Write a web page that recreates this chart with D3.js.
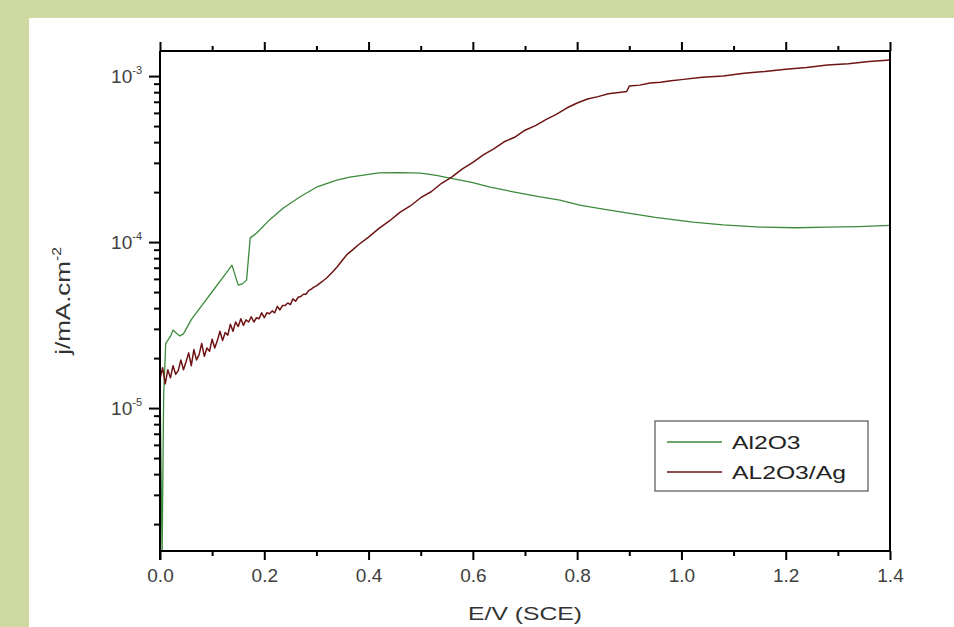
<!DOCTYPE html>
<html>
<head>
<meta charset="utf-8">
<script src="https://cdn.jsdelivr.net/npm/d3@7"></script>
<style>
  html, body { margin: 0; padding: 0; background: #cdd9a1; }
  #chart { width: 954px; height: 627px; }
  text { font-family: "Liberation Sans", Arial, sans-serif; }
</style>
</head>
<body>
<div id="chart"></div>
<script>
// potential E/V (SCE) and current density j
const al2o3E = [0.000, 0.004, 0.007, 0.011, 0.020, 0.025, 0.030, 0.038, 0.045, 0.060, 0.080, 0.100,
  0.120, 0.138, 0.150, 0.158, 0.166, 0.173, 0.185, 0.210, 0.236, 0.268, 0.300, 0.339, 0.364,
  0.400, 0.420, 0.460, 0.500, 0.530, 0.556, 0.600, 0.633, 0.680, 0.729, 0.767, 0.805, 0.850,
  0.895, 0.950, 1.022, 1.080, 1.151, 1.220, 1.279, 1.340, 1.400];
const al2o3J = [1.5e-5, 1.3e-6, 1.2e-5, 2.45e-5, 2.7e-5, 2.95e-5, 2.85e-5, 2.72e-5, 2.8e-5, 3.41e-5,
  4.14e-5, 5.02e-5, 6.09e-5, 7.26e-5, 5.5e-5, 5.6e-5, 5.9e-5, 1.06e-4, 1.13e-4, 1.36e-4, 1.6e-4,
  1.87e-4, 2.14e-4, 2.36e-4, 2.46e-4, 2.56e-4, 2.61e-4, 2.62e-4, 2.6e-4, 2.52e-4, 2.43e-4,
  2.28e-4, 2.14e-4, 2.0e-4, 1.87e-4, 1.79e-4, 1.67e-4, 1.58e-4, 1.5e-4, 1.41e-4, 1.32e-4,
  1.27e-4, 1.23e-4, 1.22e-4, 1.23e-4, 1.24e-4, 1.26e-4];

const agE = [0.000, 0.005, 0.010, 0.015, 0.020, 0.025, 0.030, 0.035, 0.040, 0.045, 0.050, 0.055,
  0.060, 0.065, 0.070, 0.075, 0.080, 0.085, 0.090, 0.095, 0.100, 0.105, 0.110, 0.115, 0.120,
  0.125, 0.130, 0.135, 0.140, 0.145, 0.150, 0.155, 0.160, 0.165, 0.170, 0.175, 0.180, 0.185,
  0.190, 0.195, 0.200, 0.205, 0.210, 0.215, 0.220, 0.225, 0.230, 0.235, 0.240, 0.245, 0.250,
  0.255, 0.260, 0.265, 0.270, 0.275, 0.280, 0.285, 0.290, 0.295, 0.300,
  0.31, 0.32, 0.33, 0.34, 0.35, 0.36, 0.37, 0.38, 0.40, 0.42, 0.44, 0.46, 0.48, 0.50, 0.52,
  0.54, 0.56, 0.58, 0.60, 0.62, 0.64, 0.66, 0.68, 0.70, 0.72, 0.74, 0.76, 0.78, 0.80, 0.82,
  0.84, 0.86, 0.88, 0.895, 0.90, 0.92, 0.94, 0.96, 0.98, 1.00, 1.04, 1.08, 1.12, 1.16, 1.20,
  1.24, 1.28, 1.32, 1.36, 1.40];
const agJ = [1.5e-5, 1.75e-5, 1.4e-5, 1.7e-5, 1.52e-5, 1.8e-5, 1.6e-5, 1.68e-5, 1.95e-5, 1.7e-5,
  1.9e-5, 2.15e-5, 1.8e-5, 2.25e-5, 1.95e-5, 2.1e-5, 2.45e-5, 2.05e-5, 2.3e-5, 2.2e-5, 2.6e-5,
  2.3e-5, 2.55e-5, 2.9e-5, 2.55e-5, 2.85e-5, 2.75e-5, 3.2e-5, 2.9e-5, 3.3e-5, 3.1e-5, 3.45e-5,
  3.15e-5, 3.4e-5, 3.3e-5, 3.55e-5, 3.3e-5, 3.5e-5, 3.45e-5, 3.75e-5, 3.5e-5, 3.75e-5, 3.7e-5,
  3.85e-5, 3.75e-5, 4.1e-5, 3.9e-5, 4.15e-5, 4.15e-5, 4.3e-5, 4.2e-5, 4.55e-5, 4.4e-5, 4.65e-5,
  4.7e-5, 4.85e-5, 4.85e-5, 5.1e-5, 5.2e-5, 5.35e-5, 5.45e-5,
  5.75e-5, 6.1e-5, 6.55e-5, 7.1e-5, 7.8e-5, 8.5e-5, 9.0e-5, 9.6e-5, 1.07e-4, 1.21e-4, 1.34e-4,
  1.51e-4, 1.65e-4, 1.85e-4, 2.01e-4, 2.26e-4, 2.47e-4, 2.76e-4, 3.02e-4, 3.35e-4, 3.64e-4,
  4.02e-4, 4.28e-4, 4.72e-4, 5.03e-4, 5.47e-4, 5.88e-4, 6.42e-4, 6.88e-4, 7.27e-4, 7.52e-4,
  7.82e-4, 7.97e-4, 8.07e-4, 8.7e-4, 8.82e-4, 9.08e-4, 9.18e-4, 9.38e-4, 9.52e-4, 9.84e-4,
  1.0e-3, 1.04e-3, 1.065e-3, 1.1e-3, 1.125e-3, 1.165e-3, 1.185e-3, 1.225e-3, 1.25e-3];

const seriesNames = ["Al2O3", "AL2O3/Ag"];
const xTicks = [0.0, 0.2, 0.4, 0.6, 0.8, 1.0, 1.2, 1.4];
const xMinor = [0.1, 0.3, 0.5, 0.7, 0.9, 1.1, 1.3];
const yDecades = [1e-5, 1e-4, 1e-3];

const width = 954, height = 627;
const mLeft = 160, mRight = 890, mTop = 51, mBottom = 551;
const stretch = 1.3; // the titles and legend text are drawn wide in the original

const svg = d3.select("#chart").append("svg")
  .attr("width", width)
  .attr("height", height);

// white panel over green page
svg.append("rect")
  .attr("x", 29).attr("y", 18)
  .attr("width", width - 29).attr("height", height - 18)
  .attr("fill", "#fff");

const x = d3.scaleLinear().domain([0, 1.4]).range([mLeft, mRight]);
const y = d3.scaleLog().domain([1.377e-6, 1.416e-3]).range([mBottom, mTop]);

svg.append("defs").append("clipPath").attr("id", "plot")
  .append("rect")
  .attr("x", mLeft).attr("y", mTop)
  .attr("width", mRight - mLeft).attr("height", mBottom - mTop);

const series = [
  { name: seriesNames[0], color: "#3c8a3c", width: 1.3, values: al2o3E.map((e, i) => ({ e, j: al2o3J[i] })) },
  { name: seriesNames[1], color: "#6e1414", width: 1.5, values: agE.map((e, i) => ({ e, j: agJ[i] })) }
];

const line = d3.line()
  .x(d => x(d.e))
  .y(d => y(d.j));

series.forEach(s => {
  svg.append("path")
    .datum(s.values)
    .attr("clip-path", "url(#plot)")
    .attr("fill", "none")
    .attr("stroke", s.color)
    .attr("stroke-width", s.width)
    .attr("stroke-linejoin", "round")
    .attr("d", line);
});

// bottom axis
const bottomAxis = svg.append("g")
  .attr("transform", "translate(0," + mBottom + ")")
  .call(d3.axisBottom(x).tickValues(xTicks).tickSize(9).tickPadding(9)
    .tickFormat(d3.format(".1f")));
bottomAxis.append("g").call(d3.axisBottom(x).tickValues(xMinor).tickSize(5).tickFormat(""));

// top axis, no labels
const topAxis = svg.append("g")
  .attr("transform", "translate(0," + mTop + ")")
  .call(d3.axisTop(x).tickValues(xTicks).tickSize(9).tickFormat(""));
topAxis.append("g").call(d3.axisTop(x).tickValues(xMinor).tickSize(5).tickFormat(""));

// left log axis
const yMinor = [];
[1e-6, 1e-5, 1e-4].forEach(dec => {
  for (let k = 2; k <= 9; k++) {
    const v = dec * k;
    if (v >= y.domain()[0] && v <= y.domain()[1]) yMinor.push(v);
  }
});
const leftAxis = svg.append("g")
  .attr("transform", "translate(" + mLeft + ",0)")
  .call(d3.axisLeft(y).tickValues(yDecades).tickSize(11).tickFormat(""));
leftAxis.append("g").call(d3.axisLeft(y).tickValues(yMinor).tickSize(6).tickFormat(""));

// right axis, plain line
svg.append("line")
  .attr("x1", mRight).attr("x2", mRight)
  .attr("y1", mTop).attr("y2", mBottom)
  .attr("stroke", "#000").attr("stroke-width", 2);

svg.selectAll("g g .domain").remove();
svg.selectAll(".domain").attr("stroke", "#000").attr("stroke-width", 2);
svg.selectAll(".tick line").attr("stroke", "#000").attr("stroke-width", 2);
bottomAxis.select(".domain").attr("d", "M" + mLeft + ",0H" + mRight);
topAxis.select(".domain").attr("d", "M" + mLeft + ",0H" + mRight);
leftAxis.select(".domain").attr("d", "M0," + mTop + "V" + (mBottom + 9));

bottomAxis.selectAll(".tick text")
  .attr("font-size", "19px")
  .attr("fill", "#404040")
  .style("font-family", "'Liberation Sans', Arial, sans-serif");

// decade labels 10^n
yDecades.forEach(v => {
  const t = svg.append("text")
    .attr("x", mLeft - 18)
    .attr("y", y(v) + 7)
    .attr("text-anchor", "end")
    .attr("font-size", "19px")
    .attr("fill", "#404040");
  t.append("tspan").text("10");
  t.append("tspan").attr("dy", -9).attr("font-size", "11px").text(String(Math.round(Math.log10(v))));
});

// axis titles
svg.append("text")
  .attr("transform", "translate(" + ((mLeft + mRight) / 2) + ",620) scale(" + stretch + ",1)")
  .attr("text-anchor", "middle")
  .attr("font-size", "19px")
  .attr("fill", "#333")
  .text("E/V (SCE)");

const yl = svg.append("text")
  .attr("transform", "translate(70," + ((mTop + mBottom) / 2) + ") rotate(-90) scale(" + stretch + ",1)")
  .attr("text-anchor", "middle")
  .attr("font-size", "20px")
  .attr("fill", "#333");
yl.append("tspan").text("j/mA.cm");
yl.append("tspan").attr("dy", -9).attr("font-size", "12px").text("-2");

// legend
const legend = svg.append("g").attr("transform", "translate(655,421)");
legend.append("rect")
  .attr("width", 213).attr("height", 70)
  .attr("fill", "#fff")
  .attr("stroke", "#555").attr("stroke-width", 1.2);
series.forEach((s, i) => {
  const row = legend.append("g").attr("transform", "translate(0," + (21 + i * 30) + ")");
  row.append("line")
    .attr("x1", 12).attr("x2", 67)
    .attr("stroke", s.color).attr("stroke-width", 1.3);
  row.append("text")
    .attr("transform", "translate(77,7) scale(" + stretch + ",1)")
    .attr("font-size", "19px")
    .attr("fill", "#222")
    .text(s.name);
});
</script>
</body>
</html>
